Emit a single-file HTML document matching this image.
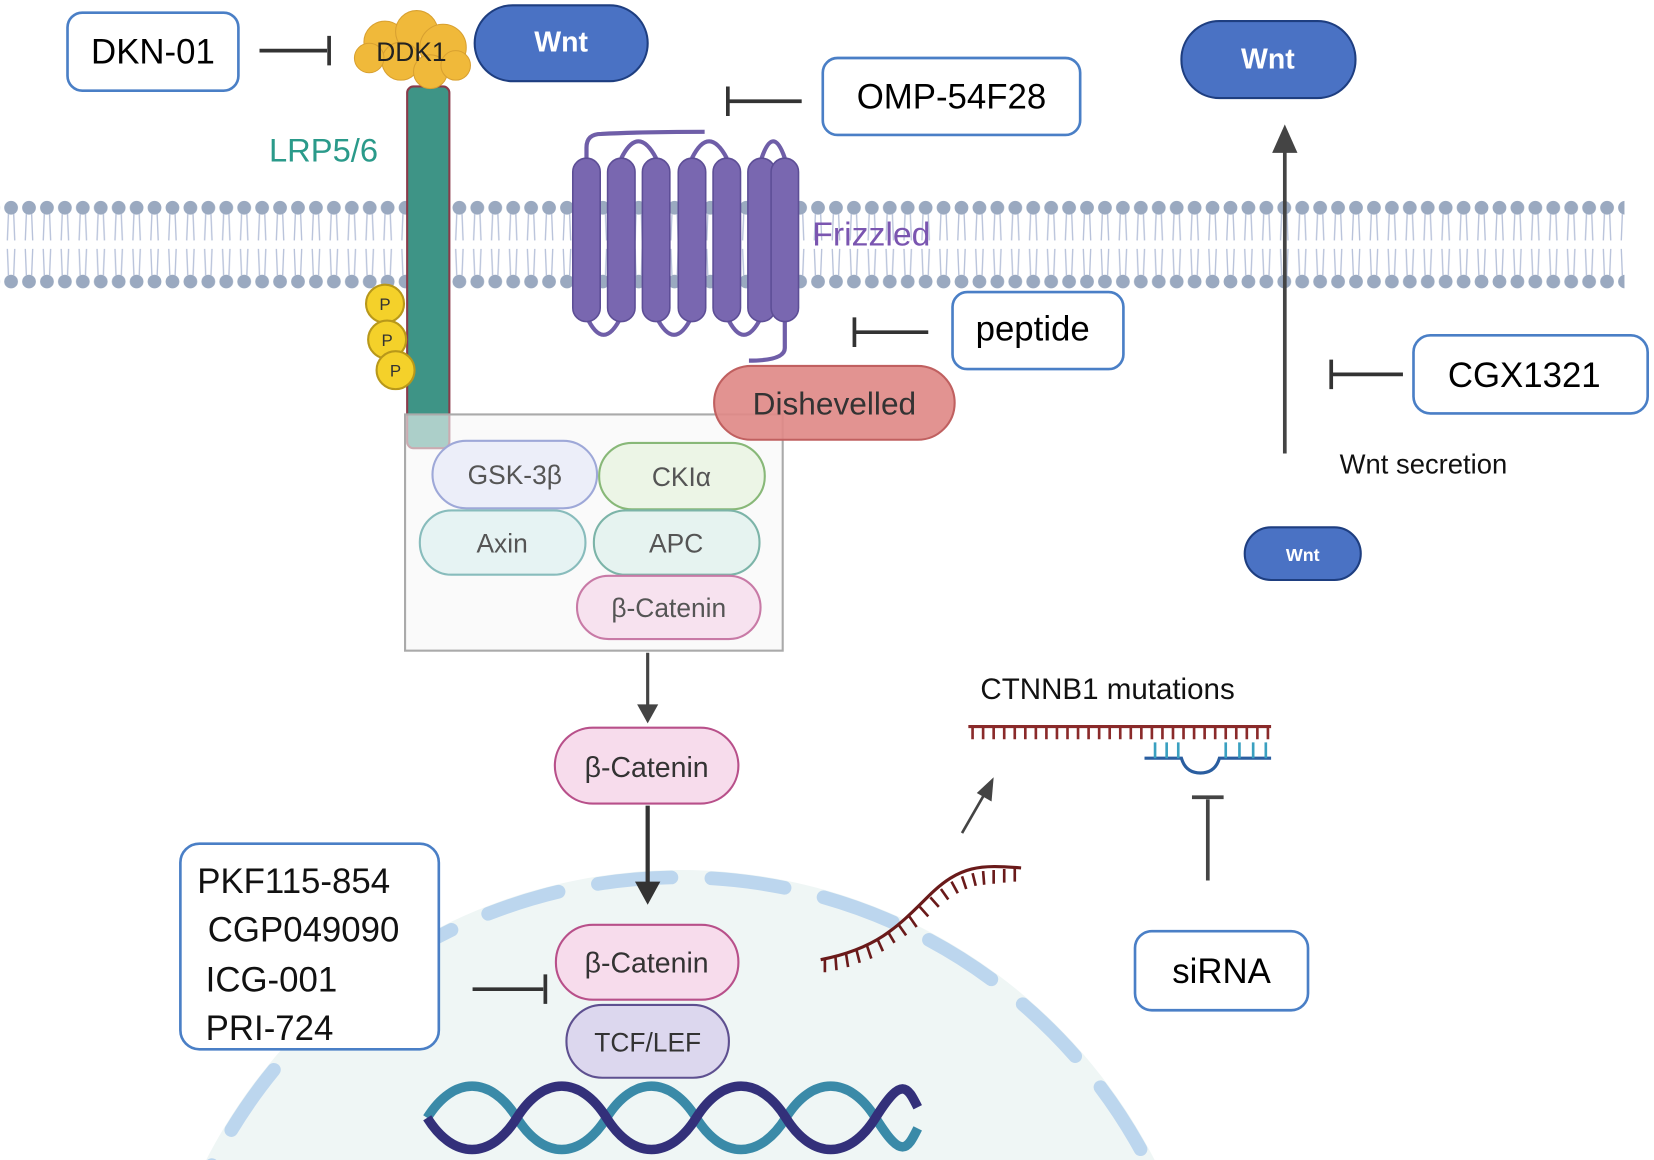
<!DOCTYPE html>
<html><head><meta charset="utf-8"><style>
html,body{margin:0;padding:0;background:#fff;overflow:hidden;width:1654px;height:1160px}
svg{display:block}
text{font-family:"Liberation Sans",sans-serif}
</style></head><body>
<svg width="1654" height="1160" viewBox="0 0 1568 1100" preserveAspectRatio="none" xmlns="http://www.w3.org/2000/svg">
<defs>
<pattern id="mem" x="2" y="0" width="17" height="1100" patternUnits="userSpaceOnUse">
<circle cx="8.5" cy="197" r="6.5" fill="#9aa9c0"/>
<circle cx="8.5" cy="267" r="6.5" fill="#9aa9c0"/>
<path d="M6 203 L5 228 M11 203 L12 228 M6 261 L5 236 M11 261 L12 236" stroke="#b8c2da" stroke-width="1.3" fill="none"/>
</pattern>
</defs>
<!-- nucleus -->
<circle cx="645" cy="1330" r="505" fill="#eff6f5"/>
<circle cx="645" cy="1330" r="498" fill="none" stroke="#bcd6ee" stroke-width="13" stroke-linecap="round" stroke-dasharray="70 38"/>
<!-- membrane -->
<rect x="0" y="188" width="1540" height="88" fill="url(#mem)"/>
<!-- LRP -->
<rect x="386" y="82" width="40" height="343" rx="6" fill="#3e9486" stroke="#8a3a4a" stroke-width="2"/>
<text x="255" y="153" font-size="31" fill="#2a9a8a">LRP5/6</text>
<!-- DDK1 -->
<g fill="#f0b93a" stroke="#d8a030" stroke-width="1">
<circle cx="365" cy="40" r="20"/><circle cx="395" cy="30" r="20"/><circle cx="420" cy="45" r="22"/><circle cx="380" cy="58" r="18"/><circle cx="408" cy="68" r="16"/><circle cx="350" cy="55" r="14"/><circle cx="432" cy="62" r="14"/>
</g>
<text x="390" y="58" font-size="25" text-anchor="middle" fill="#222">DDK1</text>
<!-- P -->
<g fill="#f4d12a" stroke="#b8981a" stroke-width="2">
<circle cx="365" cy="288" r="18"/><circle cx="367" cy="322" r="18"/><circle cx="375" cy="351" r="18"/></g>
<g font-size="16" text-anchor="middle" fill="#333"><text x="365" y="294">P</text><text x="367" y="328">P</text><text x="375" y="357">P</text></g>
<!-- Wnt top -->
<rect x="450" y="5" width="164" height="72" rx="36" fill="#4a72c4" stroke="#1e3e80" stroke-width="2"/>
<text x="532" y="49" font-size="27" font-weight="bold" text-anchor="middle" fill="#fff">Wnt</text>
<!-- DKN-01 -->
<rect x="64" y="12" width="162" height="74" rx="14" fill="#fff" stroke="#4a7fc6" stroke-width="2.5"/>
<text x="145" y="60" font-size="33" text-anchor="middle">DKN-01</text>
<path d="M246 48 H310 M312 34 V62" stroke="#333" stroke-width="3.5"/>
<!-- OMP -->
<rect x="780" y="55" width="244" height="73" rx="14" fill="#fff" stroke="#4a7fc6" stroke-width="2.5"/>
<text x="902" y="103" font-size="33" text-anchor="middle">OMP-54F28</text>
<path d="M760 96 H690 M690 82 V110" stroke="#333" stroke-width="3.5"/>
<!-- Frizzled -->
<g stroke="#6f5ea8" stroke-width="4" fill="none">
<path d="M556 150 V140 Q556 127 570 127 Q610 125 668 125"/>
<path d="M556 300 Q572 335 589 300 M622 300 Q639 335 656 300 M689 300 Q705 335 722 300"/>
<path d="M589 150 Q605 118 622 150 M656 150 Q672 118 689 150 M722 150 Q733 118 744 150"/>
<path d="M744 300 V330 Q744 342 710 342"/>
</g>
<g fill="#7967b0" stroke="#5d4e96" stroke-width="1.5">
<rect x="543" y="150" width="26" height="155" rx="13"/><rect x="576" y="150" width="26" height="155" rx="13"/><rect x="609" y="150" width="26" height="155" rx="13"/><rect x="643" y="150" width="26" height="155" rx="13"/><rect x="676" y="150" width="26" height="155" rx="13"/><rect x="709" y="150" width="26" height="155" rx="13"/><rect x="731" y="150" width="26" height="155" rx="13"/>
</g>
<text x="770" y="233" font-size="32" fill="#7a55b0">Frizzled</text>
<!-- peptide -->
<rect x="903" y="277" width="162" height="73" rx="14" fill="#fff" stroke="#4a7fc6" stroke-width="2.5"/>
<text x="979" y="323" font-size="33" text-anchor="middle">peptide</text>
<path d="M880 315 H810 M810 301 V329" stroke="#333" stroke-width="3.5"/>
<!-- complex box -->
<rect x="384" y="393" width="358" height="224" fill="#f7f7f7" fill-opacity="0.6" stroke="#aaa" stroke-width="2"/>
<!-- Dishevelled -->
<rect x="677" y="347" width="228" height="70" rx="35" fill="#e08a88" fill-opacity="0.92" stroke="#c06060" stroke-width="2"/>
<text x="791" y="393" font-size="30" text-anchor="middle" fill="#333">Dishevelled</text>
<g font-size="25" text-anchor="middle" fill="#555">
<rect x="410" y="418" width="156" height="64" rx="32" fill="#eceef9" stroke="#9ea8d8" stroke-width="2"/><text x="488" y="459">GSK-3β</text>
<rect x="568" y="420" width="157" height="63" rx="31" fill="#ecf5e6" stroke="#88b878" stroke-width="2"/><text x="646" y="461">CKIα</text>
<rect x="398" y="484" width="157" height="61" rx="30" fill="#e6f3f3" stroke="#88bcbc" stroke-width="2"/><text x="476" y="524">Axin</text>
<rect x="563" y="484" width="157" height="61" rx="30" fill="#e6f3f0" stroke="#7cb4a8" stroke-width="2"/><text x="641" y="524">APC</text>
<rect x="547" y="546" width="174" height="60" rx="30" fill="#f7e2ef" stroke="#c87aa6" stroke-width="2"/><text x="634" y="585">β-Catenin</text>
</g>
<path d="M614 619 V670" stroke="#444" stroke-width="3"/>
<polygon points="604,668 624,668 614,686" fill="#444"/>
<rect x="526" y="690" width="174" height="72" rx="36" fill="#f7dcec" stroke="#b8508a" stroke-width="2"/>
<text x="613" y="737" font-size="27" text-anchor="middle" fill="#333">β-Catenin</text>
<path d="M614 764 V838" stroke="#333" stroke-width="4"/>
<polygon points="602,836 626,836 614,858" fill="#333"/>
<!-- nuclear beta -->
<rect x="527" y="877" width="173" height="71" rx="35" fill="#f7dcec" stroke="#b8508a" stroke-width="2"/>
<text x="613" y="922" font-size="27" text-anchor="middle" fill="#333">β-Catenin</text>
<rect x="537" y="953" width="154" height="69" rx="34" fill="#dcd7ee" stroke="#5e5090" stroke-width="2"/>
<text x="614" y="997" font-size="25" text-anchor="middle" fill="#333">TCF/LEF</text>
<!-- DNA -->
<g fill="none" stroke-width="9">
<path d="M405 1060 C430 1020 465 1020 490 1060 S550 1100 575 1060 S635 1020 660 1060 S720 1100 745 1060 S805 1020 830 1060 S860 1090 870 1070" stroke="#3a8aa8"/>
<path d="M405 1060 C430 1100 465 1100 490 1060 S550 1020 575 1060 S635 1100 660 1060 S720 1020 745 1060 S805 1100 830 1060 S860 1030 870 1050" stroke="#33307a"/>
</g>
<!-- drugs box -->
<rect x="171" y="800" width="245" height="195" rx="18" fill="#fff" stroke="#4a7fc6" stroke-width="2.5"/>
<g font-size="33" fill="#111"><text x="187" y="847">PKF115-854</text><text x="197" y="893">CGP049090</text><text x="195" y="940">ICG-001</text><text x="195" y="986">PRI-724</text></g>
<path d="M448 938 H515 M517 924 V952" stroke="#333" stroke-width="3.5"/>
<!-- mRNA -->
<text x="1050" y="663" font-size="28" text-anchor="middle" fill="#111">CTNNB1 mutations</text>
<path d="M918 689 H1205" stroke="#8a2a2a" stroke-width="3"/>
<path d="M922 689 v12 M932 689 v12 M942 689 v12 M952 689 v12 M962 689 v12 M972 689 v12 M982 689 v12 M992 689 v12 M1002 689 v12 M1012 689 v12 M1022 689 v12 M1032 689 v12 M1042 689 v12 M1052 689 v12 M1062 689 v12 M1072 689 v12 M1082 689 v12 M1092 689 v12 M1102 689 v12 M1112 689 v12 M1122 689 v12 M1132 689 v12 M1142 689 v12 M1152 689 v12 M1162 689 v12 M1172 689 v12 M1182 689 v12 M1192 689 v12 M1202 689 v12" stroke="#8a2a2a" stroke-width="2.5"/>
<path d="M1085 719 H1120 Q1124 733 1138 733 Q1152 733 1156 719 H1205" stroke="#2a5ea0" stroke-width="3" fill="none"/>
<path d="M1095 704 v15 M1106 704 v15 M1117 704 v15 M1162 704 v15 M1175 704 v15 M1188 704 v15 M1200 704 v15" stroke="#3aa0c0" stroke-width="2.5"/>
<path d="M1145 835 V758 M1130 756 H1160" stroke="#444" stroke-width="3.5"/>
<path d="M912 790 L935 750" stroke="#444" stroke-width="2.5"/>
<polygon points="942,737 940,760 926,752" fill="#444"/>
<!-- curved strand -->
<path d="M778 910 C830 900 850 880 880 850 S930 820 968 823" stroke="#6a1a1a" stroke-width="3" fill="none"/>
<path d="M782 909 l0 13 M792 907 l1 13 M802 904 l2 13 M812 901 l3 12 M822 897 l4 12 M832 891 l5 11 M842 884 l6 10 M852 877 l7 10 M862 869 l7 10 M872 860 l8 9 M882 851 l8 9 M892 843 l7 10 M902 836 l6 11 M912 831 l4 12 M922 828 l3 12 M932 826 l1 13 M942 825 l0 13 M952 824 l0 13 M962 823 l0 13" stroke="#6a1a1a" stroke-width="2.5"/>
<!-- siRNA -->
<rect x="1076" y="883" width="164" height="75" rx="16" fill="#fff" stroke="#4a7fc6" stroke-width="2.5"/>
<text x="1158" y="932" font-size="33" text-anchor="middle">siRNA</text>
<!-- right side -->
<rect x="1120" y="20" width="165" height="73" rx="36" fill="#4a72c4" stroke="#1e3e80" stroke-width="2"/>
<text x="1202" y="65" font-size="27" font-weight="bold" text-anchor="middle" fill="#fff">Wnt</text>
<path d="M1218 430 V140" stroke="#444" stroke-width="3.5"/>
<polygon points="1206,145 1230,145 1218,118" fill="#444"/>
<rect x="1340" y="318" width="222" height="74" rx="16" fill="#fff" stroke="#4a7fc6" stroke-width="2.5"/>
<text x="1445" y="367" font-size="33" text-anchor="middle">CGX1321</text>
<path d="M1330 355 H1262 M1262 341 V369" stroke="#333" stroke-width="3.5"/>
<text x="1270" y="449" font-size="26" fill="#111">Wnt secretion</text>
<rect x="1180" y="500" width="110" height="50" rx="25" fill="#4a72c4" stroke="#1e3e80" stroke-width="2"/>
<text x="1235" y="532" font-size="17" font-weight="bold" text-anchor="middle" fill="#fff">Wnt</text>
</svg>
</body></html>
